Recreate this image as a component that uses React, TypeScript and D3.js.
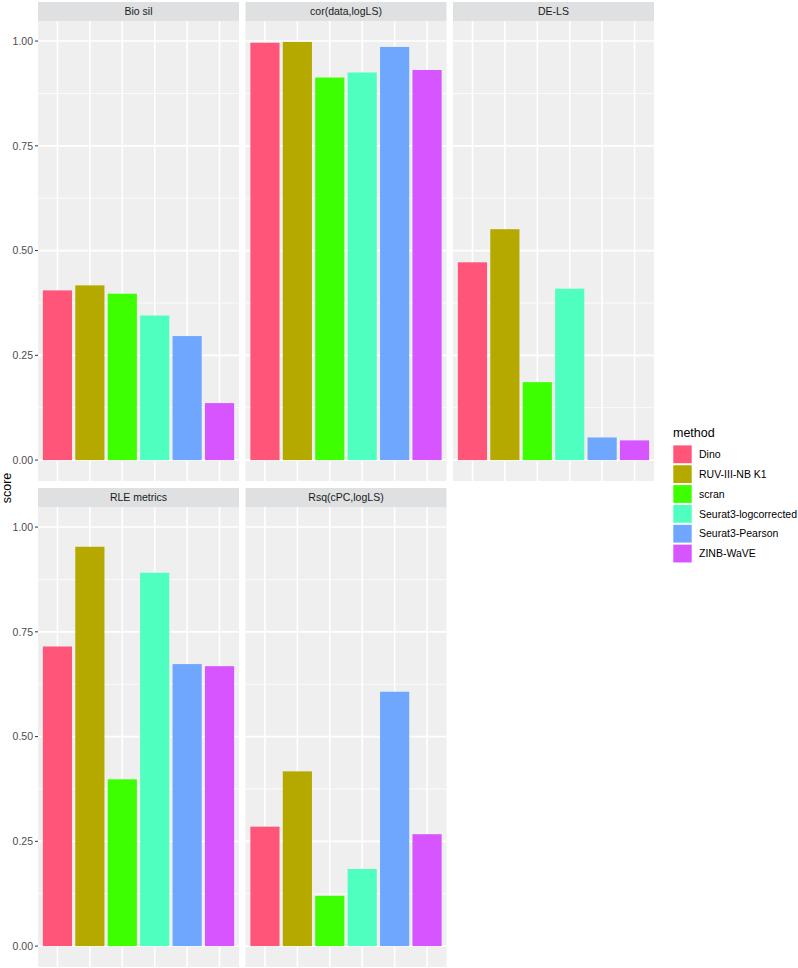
import React from "react";
import * as d3 from "d3";

const methods = ["Dino", "RUV-III-NB K1", "scran", "Seurat3-logcorrected", "Seurat3-Pearson", "ZINB-WaVE"];
const colors = ["#FF5578", "#B5A900", "#3DFF00", "#4FFFBF", "#6FA7FF", "#D655FF"];
const metrics = ["Bio sil", "cor(data,logLS)", "DE-LS", "RLE metrics", "Rsq(cPC,logLS)"];
const bioSil = [0.405, 0.417, 0.397, 0.345, 0.296, 0.136];
const corData = [0.996, 0.998, 0.913, 0.925, 0.986, 0.931];
const deLS = [0.472, 0.551, 0.186, 0.409, 0.054, 0.047];
const rleMetrics = [0.715, 0.953, 0.398, 0.891, 0.673, 0.668];
const rsq = [0.285, 0.417, 0.12, 0.184, 0.607, 0.267];
const yTicks = [0, 0.25, 0.5, 0.75, 1.0];
const yMinor = [0.125, 0.375, 0.625, 0.875];

const seriesByMetric = [bioSil, corData, deLS, rleMetrics, rsq];

const W = 798;
const H = 968;
const FONT = "'Liberation Sans', Arial, Helvetica, sans-serif";

const panelLeft0 = 38;
const panelW = 201;
const gapX = 6.5;
const stripH = 19;
const panelH = 460;
const rowTops = [2, 488];

export default function App() {
  const maxV = d3.max(seriesByMetric.flat()) as number;
  const yDomain: [number, number] = [-0.05 * maxV, maxV * 1.05];

  const panels = metrics.map((m, i) => {
    const row = Math.floor(i / 3);
    const col = i % 3;
    const x0 = panelLeft0 + col * (panelW + gapX);
    const stripY = rowTops[row];
    const py0 = stripY + stripH;
    const x = d3
      .scaleBand<string>()
      .domain(methods)
      .range([x0, x0 + panelW])
      .paddingInner(0.1)
      .paddingOuter(0.15);
    const y = d3.scaleLinear().domain(yDomain).range([py0 + panelH, py0]);
    return { m, i, row, col, x0, stripY, py0, x, y, vals: seriesByMetric[i] };
  });

  return (
    <svg
      width={W}
      height={H}
      style={{ position: "absolute", left: 0, top: 0, background: "#fff" }}
      fontFamily={FONT}
    >
      {panels.map((p) => (
        <g key={p.m}>
          <rect x={p.x0} y={p.py0} width={panelW} height={panelH} fill="#EFEFEF" />
          {yMinor.map((t) => (
            <line
              key={"mn" + t}
              x1={p.x0}
              x2={p.x0 + panelW}
              y1={p.y(t)}
              y2={p.y(t)}
              stroke="#fff"
              strokeWidth={0.8}
            />
          ))}
          {yTicks.map((t) => (
            <line
              key={"mj" + t}
              x1={p.x0}
              x2={p.x0 + panelW}
              y1={p.y(t)}
              y2={p.y(t)}
              stroke="#fff"
              strokeWidth={1.6}
            />
          ))}
          {methods.map((mm) => {
            const cx = (p.x(mm) as number) + p.x.bandwidth() / 2;
            return (
              <line
                key={"v" + mm}
                x1={cx}
                x2={cx}
                y1={p.py0}
                y2={p.py0 + panelH}
                stroke="#fff"
                strokeWidth={1.6}
              />
            );
          })}
          {p.vals.map((v, j) => (
            <rect
              key={"b" + j}
              x={p.x(methods[j])}
              width={p.x.bandwidth()}
              y={p.y(v)}
              height={p.y(0) - p.y(v)}
              fill={colors[j]}
            />
          ))}
          <rect x={p.x0} y={p.stripY} width={panelW} height={stripH} fill="#DEE0E1" />
          <text
            x={p.x0 + panelW / 2}
            y={p.stripY + stripH / 2}
            dy="0.35em"
            textAnchor="middle"
            fontSize={10.5}
            fill="#1A1A1A"
          >
            {p.m}
          </text>
          {p.col === 0 &&
            yTicks.map((t) => (
              <g key={"t" + t}>
                <line x1={p.x0 - 3} x2={p.x0} y1={p.y(t)} y2={p.y(t)} stroke="#333" strokeWidth={1} />
                <text
                  x={p.x0 - 5}
                  y={p.y(t)}
                  dy="0.35em"
                  textAnchor="end"
                  fontSize={10.5}
                  fill="#4D4D4D"
                >
                  {t.toFixed(2)}
                </text>
              </g>
            ))}
        </g>
      ))}
      <text
        transform={`translate(10.5,488) rotate(-90)`}
        textAnchor="middle"
        fontSize={12.5}
        fill="#000"
      >
        score
      </text>
      <g>
        <text x={673} y={437} fontSize={12.5} fill="#000">
          method
        </text>
        {methods.map((mm, j) => {
          const cy = 454.3 + j * 19.85;
          return (
            <g key={"lg" + mm}>
              <rect x={673.3} y={cy - 8.9} width={18.4} height={17.8} fill={colors[j]} />
              <text x={699} y={cy} dy="0.35em" fontSize={10.5} fill="#000">
                {mm}
              </text>
            </g>
          );
        })}
      </g>
    </svg>
  );
}
